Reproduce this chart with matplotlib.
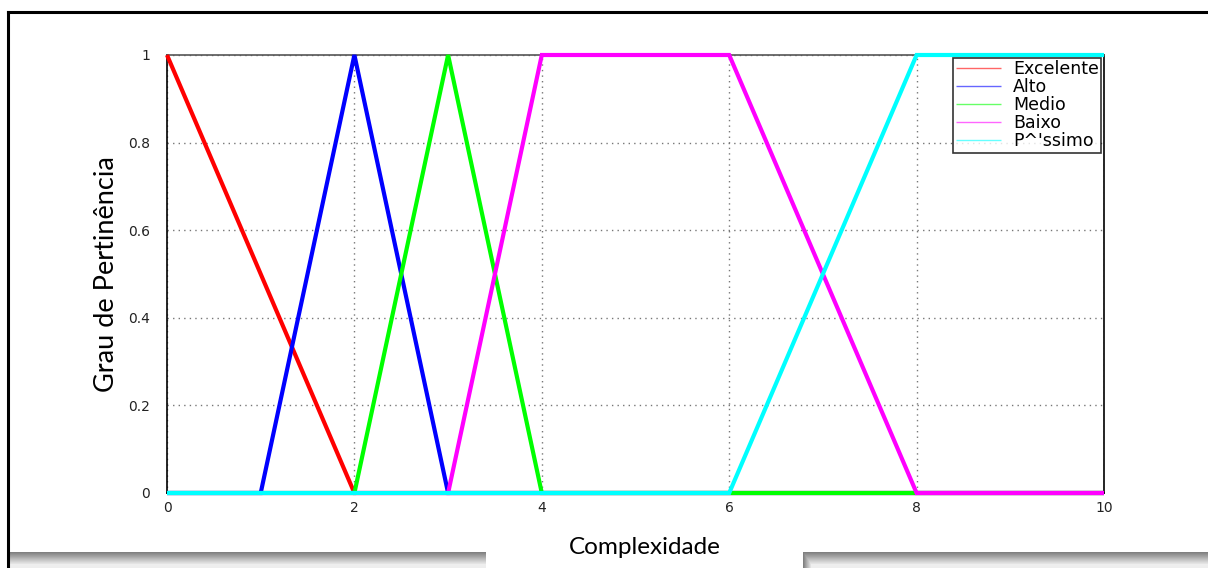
import matplotlib
matplotlib.use("Agg")
import matplotlib.pyplot as plt
from matplotlib.lines import Line2D
import numpy as np

W, H = 1208, 568

# membership functions (breakpoints)
x_exc = [0, 2, 10]
y_exc = [1, 0, 0]
x_alto = [0, 1, 2, 3, 10]
y_alto = [0, 0, 1, 0, 0]
x_med = [0, 2, 3, 4, 10]
y_med = [0, 0, 1, 0, 0]
x_baixo = [0, 3, 4, 6, 8, 10]
y_baixo = [0, 0, 1, 1, 0, 0]
x_pess = [0, 6, 8, 10]
y_pess = [0, 0, 1, 1]

labels = ["Excelente", "Alto", "Medio", "Baixo", "P^'ssimo"]
colors = ["#ff0000", "#0000ff", "#00ff00", "#ff00ff", "#00ffff"]
xticks = [0, 2, 4, 6, 8, 10]
yticks = [0, 0.2, 0.4, 0.6, 0.8, 1]

fig = plt.figure(figsize=(W / 100, H / 100), dpi=100)
ax = fig.add_axes([167 / W, 1 - 493 / H, (1104 - 167) / W, (493 - 55) / H])

series = [(x_exc, y_exc), (x_alto, y_alto), (x_med, y_med),
          (x_baixo, y_baixo), (x_pess, y_pess)]
for (xs, ys), c, lab in zip(series, colors, labels):
    ax.plot(xs, ys, color=c, lw=3, label=lab, solid_joinstyle='miter',
            solid_capstyle='butt', clip_on=False, zorder=3)

ax.set_xlim(0, 10)
ax.set_ylim(0, 1)
ax.set_xticks(xticks)
ax.set_yticks(yticks)
ax.set_xticklabels([str(t) for t in xticks])
ax.set_yticklabels(["0", "0.2", "0.4", "0.6", "0.8", "1"])
ax.tick_params(axis="y", length=0, labelsize=10, pad=12, colors="#222222")
ax.tick_params(axis="x", length=0, labelsize=10, pad=6, colors="#222222")
for lab in ax.get_xticklabels() + ax.get_yticklabels():
    lab.set_fontfamily("DejaVu Sans")
ax.grid(True, linestyle=(0, (1, 3)), color="#777777", lw=1)
for s in ["left", "right", "bottom"]:
    ax.spines[s].set_color("black")
    ax.spines[s].set_linewidth(1.2)
ax.spines["top"].set_color("#555555")
ax.spines["top"].set_linewidth(1.2)

ax.set_ylabel("Grau de Pertinência", fontsize=19.5, family="Lato", labelpad=7)

leg = ax.legend(loc="upper right", prop={"family": "DejaVu Sans", "size": 12.5},
                frameon=True, fancybox=False, edgecolor="black",
                borderaxespad=0.15, handlelength=2.6, labelspacing=0.0,
                borderpad=0.15, handletextpad=0.7)
leg.get_frame().set_linewidth(1.2)
for ln in leg.get_lines():
    ln.set_linewidth(1)
    ln.set_alpha(0.6)

# outer frame
fig.add_artist(Line2D([8 / W, 8 / W], [0, 1 - 12 / H], color="black", lw=2.2))
fig.add_artist(Line2D([8 / W, 1], [1 - 12 / H, 1 - 12 / H], color="black", lw=2.2))

# gray shadow bands at the bottom
band_h = H - 552
gy = np.clip(0.5 + 0.43 * np.arange(band_h) / 12, 0.5, 0.93)
left_band = np.tile(gy[:, None], (1, 486 - 10))
bax = fig.add_axes([10 / W, 0, (486 - 10) / W, band_h / H])
bax.imshow(left_band, cmap="gray", vmin=0, vmax=1, aspect="auto",
           interpolation="nearest")
bax.axis("off")

rw = W - 803
gx = np.clip(0.5 + 0.43 * np.arange(rw) / 8, 0.5, 0.93)
right_band = np.minimum(gy[:, None], gx[None, :])
rax = fig.add_axes([803 / W, 0, rw / W, band_h / H])
rax.imshow(right_band, cmap="gray", vmin=0, vmax=1, aspect="auto",
           interpolation="nearest")
rax.axis("off")

fig.text(645 / W, 1 - 547 / H, "Complexidade", fontsize=17.5, family="Lato",
         ha="center", va="center")

fig.savefig("out.png", dpi=100)
